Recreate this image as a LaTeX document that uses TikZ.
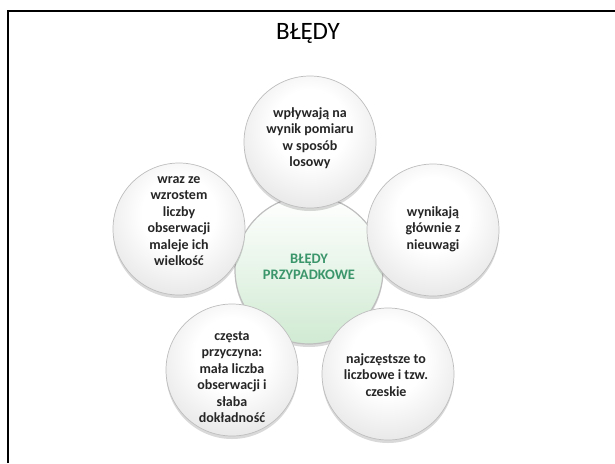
\documentclass[tikz,border=0pt]{standalone}
\usepackage{fontspec}
\setmainfont{Carlito}
\usetikzlibrary{shadows}
\definecolor{rimgray}{RGB}{190,190,190}
\definecolor{txtgreen}{RGB}{60,150,108}
\definecolor{palegreen}{RGB}{208,234,210}
\pgfdeclareradialshading{sphereshade}{\pgfpoint{0bp}{7bp}}{color(0bp)=(white); color(14bp)=(white); color(32bp)=(black!10); color(44bp)=(black!28); color(50bp)=(black!42); color(53bp)=(black!30); color(56bp)=(black!8); color(90bp)=(black!8)}
\tikzset{
  ball/.style={circle, minimum size=132pt, inner sep=0pt,
    shading=sphereshade, draw=rimgray, line width=0.7pt,
    drop shadow={shadow xshift=0pt, shadow yshift=-3pt, opacity=0.15, fill=black}},
  centerball/.style={circle, minimum size=148pt, inner sep=0pt,
    top color=white, middle color=white, bottom color=palegreen,
    draw=rimgray, line width=1.2pt,
    drop shadow={shadow xshift=0pt, shadow yshift=-3pt, opacity=0.15, fill=black}},
  balltext/.style={align=center, inner sep=0pt,
    font=\fontsize{14}{16.5}\selectfont\bfseries, text=black!85},
  centertext/.style={align=center, inner sep=0pt,
    font=\fontsize{14.5}{16}\selectfont\bfseries, text=txtgreen},
  titletext/.style={font=\fontsize{25}{28}\selectfont}
}
\begin{document}
\begin{tikzpicture}[x=1pt,y=-1pt]
\useasboundingbox (0,0) rectangle (615,463);
\draw[line width=2pt] (8,463) -- (8,11) -- (615,11);
\node[titletext] (title) at (308,33) {BŁĘDY};
\node[centerball] (c) at (309,270) {};
\node[ball] (t) at (310,142) {};
\node[ball] (l) at (179,229) {};
\node[ball] (r) at (433,230) {};
\node[ball] (bl) at (232,370) {};
\node[ball] (br) at (388,374) {};
\node[centertext] (ctext) at (309,267) {BŁĘDY\\PRZYPADKOWE};
\node[balltext] (ttext) at (310,138) {wpływają na\\wynik pomiaru\\w sposób\\losowy};
\node[balltext] (ltext) at (179,221) {wraz ze\\wzrostem\\liczby\\obserwacji\\maleje ich\\wielkość};
\node[balltext] (rtext) at (433,229) {wynikają\\głównie z\\nieuwagi};
\node[balltext] (bltext) at (232,377) {częsta\\przyczyna:\\mała liczba\\obserwacji i\\słaba\\dokładność};
\node[balltext] (brtext) at (386,375) {najczęstsze to\\liczbowe i tzw.\\czeskie};
\end{tikzpicture}
\end{document}
